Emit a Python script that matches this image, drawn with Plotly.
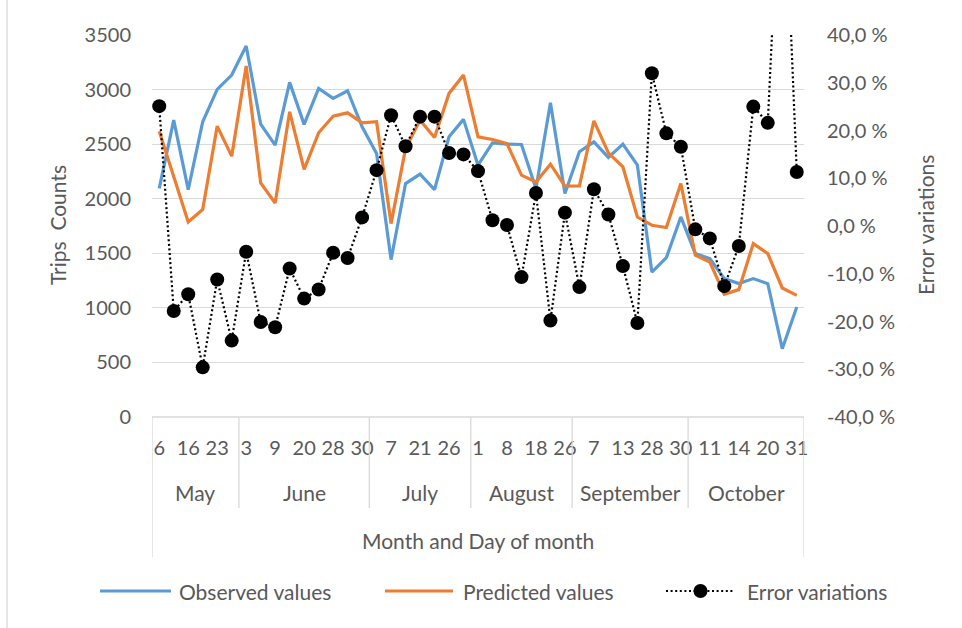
import numpy as np
import plotly.graph_objects as go

# ---------------- data ----------------
MONTHS = ["May", "June", "July", "August", "September", "October"]
MONTH_COUNTS = [6, 9, 7, 7, 8, 8]  # number of observations in each month
DAY_LABELS = ["6", "16", "23", "3", "9", "20", "28", "30", "7", "21", "26",
              "1", "8", "18", "26", "7", "13", "28", "30", "11", "14", "20", "31"]

OBSERVED = [2094, 2720, 2084, 2705, 3002, 3133, 3399, 2683, 2491, 3066,
            2681, 3011, 2919, 2989, 2659, 2415, 1442, 2139, 2225, 2084,
            2567, 2727, 2307, 2512, 2500, 2497, 2094, 2879, 2048, 2430,
            2521, 2378, 2500, 2307, 1328, 1460, 1833, 1497, 1451, 1268,
            1222, 1268, 1222, 626, 1008]
PREDICTED = [2619, 2200, 1787, 1901, 2665, 2390, 3216, 2145, 1961, 2796,
             2268, 2604, 2757, 2787, 2695, 2705, 1772, 2460, 2720, 2561,
             2965, 3133, 2567, 2543, 2506, 2216, 2154, 2317, 2115, 2118,
             2714, 2420, 2291, 1832, 1757, 1736, 2139, 1482, 1420, 1124,
             1167, 1589, 1497, 1182, 1115]
ERROR_PCT = [25.1, -17.8, -14.3, -29.6, -11.2, -24.0, -5.4, -20.1, -21.2, -8.9,
             -15.2, -13.3, -5.6, -6.7, 1.8, 11.7, 23.2, 16.7, 22.9, 22.9,
             15.3, 15.0, 11.5, 1.2, 0.2, -10.7, 6.9, -19.8, 2.8, -12.8,
             7.7, 2.4, -8.4, -20.3, 32.0, 19.4, 16.6, -0.7, -2.6, -12.6,
             -4.2, 25.0, 21.6, 85.0, 11.3]

LEFT_TICKS = [0, 500, 1000, 1500, 2000, 2500, 3000, 3500]
RIGHT_TICKS = [-40, -30, -20, -10, 0, 10, 20, 30, 40]
RIGHT_TICK_LABELS = ["-40,0 %", "-30,0 %", "-20,0 %", "-10,0 %", "0,0 %",
                     "10,0 %", "20,0 %", "30,0 %", "40,0 %"]

# ---------------- styling ----------------
FONT = "Lato"
TXT = "#595959"
GRID = "#D9D9D9"
BLUE = "#5B9BD5"
ORANGE = "#ED7D31"

W, H = 962, 628
ML, MR, MT, MB = 152, 158, 35, 211
PW = W - ML - MR
PH = H - MT - MB

def px_x(X):
    return (X - ML) / PW

def px_y(Y):
    return (H - MB - Y) / PH

n = len(OBSERVED)
x = list(range(n))

fig = go.Figure()
fig.add_trace(go.Scatter(x=x, y=OBSERVED, mode="lines", name="Observed values",
                         line=dict(color=BLUE, width=3.2), showlegend=False))
fig.add_trace(go.Scatter(x=x, y=PREDICTED, mode="lines", name="Predicted values",
                         line=dict(color=ORANGE, width=3.2), showlegend=False))
fig.add_trace(go.Scatter(x=x, y=ERROR_PCT, mode="lines+markers", name="Error variations",
                         yaxis="y2",
                         line=dict(color="black", width=2.2, dash="2px,2.6px"),
                         marker=dict(symbol="circle", size=14, color="black"),
                         showlegend=False))

shapes = []
annotations = []

def note(text, xv, yv, xref="paper", size=20, angle=0, xanchor="center"):
    annotations.append(dict(text=text, x=xv, y=yv, xref=xref, yref="paper",
                            xanchor=xanchor, yanchor="middle", textangle=angle,
                            showarrow=False, font=dict(family=FONT, size=size, color=TXT)))

# category axis box: month dividers and outer borders
bounds = np.concatenate([[0], np.cumsum(MONTH_COUNTS)]) - 0.5
for i, b in enumerate(bounds):
    outer = (i == 0 or i == len(bounds) - 1)
    shapes.append(dict(type="line", xref="x", yref="paper", x0=b, x1=b,
                       y0=0, y1=px_y(557 if outer else 508),
                       line=dict(color=GRID, width=1.3)))
shapes.append(dict(type="line", xref="paper", yref="paper", x0=0, x1=1, y0=0, y1=0,
                   line=dict(color=GRID, width=1.3)))
# chart area left border
shapes.append(dict(type="line", xref="paper", yref="paper", x0=px_x(7), x1=px_x(7),
                   y0=px_y(0), y1=px_y(628), line=dict(color=GRID, width=1.3)))

for m, lo, hi in zip(MONTHS, bounds[:-1], bounds[1:]):
    note(m, (lo + hi) / 2, px_y(493), xref="x", size=21)

note("Month and Day of month", 0.5, px_y(540), size=21)
note("Trips  Counts", px_x(57), px_y(225), size=21, angle=-90)
note("Error variations", px_x(925), px_y(225), size=21, angle=-90)

# custom legend (Excel style long line keys)
LY = px_y(591)
legend_items = [("Observed values", 100, 171, 177, BLUE, "solid", 3),
                ("Predicted values", 385, 453, 461, ORANGE, "solid", 3),
                ("Error variations", 666, 735, 745, "black", "dot", 2)]
for name, x0, x1, tx, col, dash, w in legend_items:
    shapes.append(dict(type="line", xref="paper", yref="paper", x0=px_x(x0), x1=px_x(x1),
                       y0=LY, y1=LY, line=dict(color=col, width=w,
                                               dash="2px,2.6px" if dash == "dot" else "solid")))
    note(name, px_x(tx), LY, size=21, xanchor="left")
    if dash == "dot":
        cx = (x0 + x1) / 2
        shapes.append(dict(type="circle", xref="paper", yref="paper",
                           x0=px_x(cx - 7), x1=px_x(cx + 7),
                           y0=LY - 7 / PH, y1=LY + 7 / PH,
                           fillcolor="black", line=dict(color="black", width=0)))

fig.update_layout(
    width=W, height=H,
    margin=dict(l=ML, r=MR, t=MT, b=MB),
    paper_bgcolor="white", plot_bgcolor="white",
    font=dict(family=FONT, size=20, color=TXT),
    showlegend=False,
    shapes=shapes,
    annotations=annotations,
    xaxis=dict(range=[-0.5, n - 0.5], tickmode="array", tickvals=x[::2], ticktext=DAY_LABELS,
               showgrid=False, zeroline=False, showline=False, ticks="",
               ticklabelstandoff=17, tickfont=dict(family=FONT, size=20, color=TXT)),
    yaxis=dict(range=[0, 3500], tickvals=LEFT_TICKS, showgrid=True, gridcolor=GRID,
               gridwidth=1.3, zeroline=False, showline=False, ticks="",
               ticklabelstandoff=20, tickfont=dict(family=FONT, size=20, color=TXT)),
    yaxis2=dict(range=[-40, 40], tickmode="array", tickvals=RIGHT_TICKS,
                ticktext=RIGHT_TICK_LABELS, overlaying="y", side="right",
                showgrid=False, zeroline=False, showline=False, ticks="",
                ticklabelstandoff=22, tickfont=dict(family=FONT, size=20, color=TXT)),
)

fig.write_html("out.html", config={"displayModeBar": False},
               post_script="document.body.style.margin='0';")
